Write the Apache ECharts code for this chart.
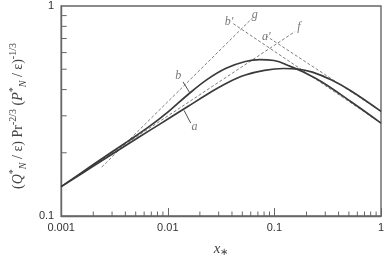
<!DOCTYPE html>
<html>
<head>
<meta charset="utf-8">
<script src="https://cdn.jsdelivr.net/npm/echarts@6/dist/echarts.min.js"></script>
<style>
  html, body { margin: 0; padding: 0; background: #fff; }
  #chart { width: 389px; height: 262px; }
</style>
</head>
<body>
<div id="chart"></div>
<script>
// curves (x*, value)
var curveA = [[0.001,0.138],[0.00194,0.171],[0.00417,0.219],[0.00672,0.255],[0.0102,0.291],[0.0154,0.332],
  [0.0233,0.379],[0.0352,0.428],[0.0533,0.469],[0.0806,0.494],[0.122,0.504],[0.166,0.501],
  [0.227,0.484],[0.344,0.444],[0.52,0.395],[1,0.315]];
var curveB = [[0.001,0.138],[0.00194,0.174],[0.00417,0.226],[0.00672,0.267],[0.0102,0.315],[0.0154,0.378],
  [0.0233,0.446],[0.0352,0.505],[0.0533,0.544],[0.0727,0.556],[0.0992,0.550],[0.141,0.516],
  [0.185,0.486],[0.279,0.435],[0.52,0.351],[1,0.277]];

// dashed asymptotes
var lineF = [[0.001,0.138],[0.156,0.755]];
var lineG = [[0.0024,0.171],[0.062,0.875]];
var lineA2 = [[1,0.315],[0.0841,0.719]];
var lineB2 = [[1,0.277],[0.0407,0.827]];

// leader lines for a and b
var leaderA = [[0.0142,0.3185],[0.0164,0.277]];
var leaderB = [[0.0160,0.388],[0.0139,0.435]];

// curve tags [x, y, text]
var tags = [[0.0178,0.265,"a"],[0.0125,0.463,"b"],[0.170,0.792,"f"],[0.0655,0.911,"g"],
  [0.0841,0.712,"a'"],[0.0375,0.836,"b'"]];

var xMinor = [0.002,0.003,0.004,0.005,0.006,0.007,0.008,0.009,
  0.02,0.03,0.04,0.05,0.06,0.07,0.08,0.09,
  0.2,0.3,0.4,0.5,0.6,0.7,0.8,0.9];
var yMinor = [0.2,0.3,0.4,0.5,0.6,0.7,0.8,0.9];

var serif = "Liberation Serif";
var sans = "Liberation Sans";
var dark = "#3a3a3a";
var dashGrey = "#6f6f6f";

function dashed(data) {
  return {
    type: "line", data: data, showSymbol: false, silent: true, z: 2,
    lineStyle: { color: dashGrey, width: 0.9, type: [3, 2] }
  };
}
function solid(data, smooth) {
  return {
    type: "line", data: data, showSymbol: false, silent: true, z: 3,
    smooth: smooth, lineStyle: { color: dark, width: smooth ? 1.7 : 0.9 }
  };
}

var chart = echarts.init(document.getElementById("chart"));
chart.setOption({
  animation: false,
  grid: { left: 48, right: 8, top: 6, bottom: 42, show: true, borderColor: "#666", borderWidth: 1.4 },
  xAxis: {
    type: "log", logBase: 10, min: 0.001, max: 1,
    name: "{i|x}{s|∗}", nameLocation: "middle", nameGap: 25,
    nameTextStyle: {
      rich: {
        i: { fontFamily: serif, fontStyle: "italic", fontSize: 15, color: "#444" },
        s: { fontFamily: serif, fontSize: 10, color: "#444", padding: [6, 0, 0, 0] }
      }
    },
    axisLine: { lineStyle: { color: "#666", width: 1.4 } },
    axisTick: { show: true, inside: true, length: 8, lineStyle: { color: "#666" } },
    axisLabel: { fontFamily: sans, fontSize: 11, color: "#333", margin: 6,
      formatter: function (v) { return String(+v.toPrecision(3)); } },
    splitLine: { show: false }
  },
  yAxis: {
    type: "log", logBase: 10, min: 0.1, max: 1,
    name: "{p|(}{i|Q}{sp|*}{sb|N}{p| / ε) Pr}{sp|-2/3}{p| (}{i|P}{sp|*}{sb|N}{p| / ε)}{sp|-1/3}",
    nameLocation: "middle", nameGap: 18,
    nameTextStyle: {
      padding: [0, 10, 0, 0],
      rich: {
        p: { fontFamily: serif, fontSize: 14, color: "#444", lineHeight: 20 },
        i: { fontFamily: serif, fontStyle: "italic", fontSize: 14, color: "#444", lineHeight: 20 },
        sp: { fontFamily: serif, fontSize: 10, color: "#444", verticalAlign: "top" },
        sb: { fontFamily: serif, fontStyle: "italic", fontSize: 10, color: "#444", verticalAlign: "bottom" }
      }
    },
    axisLine: { lineStyle: { color: "#666", width: 1.4 } },
    axisTick: { show: false },
    axisLabel: { fontFamily: sans, fontSize: 11, color: "#333", margin: 7,
      formatter: function (v) { return String(+v.toPrecision(3)); } },
    splitLine: { show: false }
  },
  series: [
    dashed(lineF), dashed(lineG), dashed(lineA2), dashed(lineB2),
    solid(curveA, 0.4), solid(curveB, 0.4),
    solid(leaderA, 0), solid(leaderB, 0),
    {
      type: "scatter", data: tags, symbolSize: 0, silent: true, z: 5,
      label: {
        show: true, position: "inside",
        formatter: function (p) { return p.value[2]; },
        fontFamily: serif, fontStyle: "italic", fontSize: 12, color: "#555"
      }
    },
    {
      type: "custom", silent: true, z: 4,
      data: xMinor.map(function (v) { return [v, 0.1]; }),
      renderItem: function (params, api) {
        var p = api.coord([api.value(0), api.value(1)]);
        return { type: "line", shape: { x1: p[0], y1: p[1], x2: p[0], y2: p[1] - 4.5 },
          style: { stroke: "#666", lineWidth: 1 } };
      }
    },
    {
      type: "custom", silent: true, z: 4,
      data: yMinor.map(function (v) { return [0.001, v]; }),
      renderItem: function (params, api) {
        var p = api.coord([api.value(0), api.value(1)]);
        return { type: "line", shape: { x1: p[0], y1: p[1], x2: p[0] + 5.5, y2: p[1] },
          style: { stroke: "#666", lineWidth: 1 } };
      }
    }
  ]
});
</script>
</body>
</html>
